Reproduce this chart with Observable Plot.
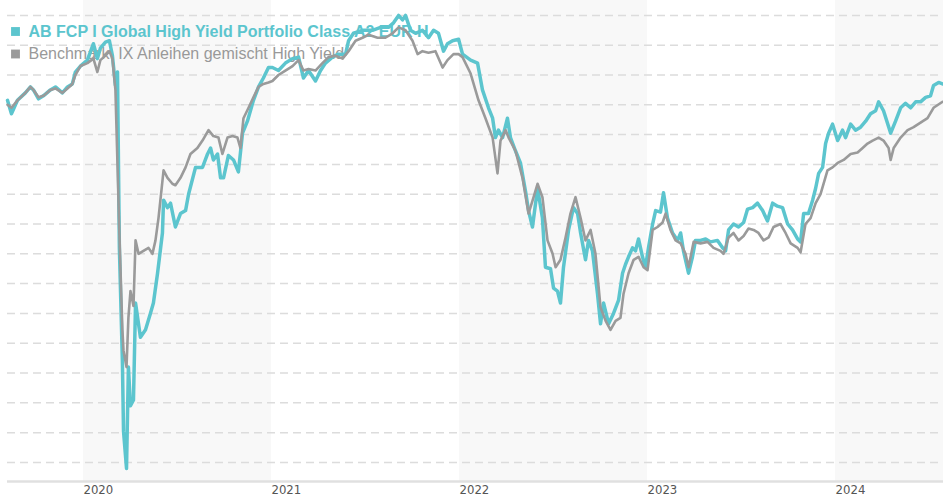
<!DOCTYPE html>
<html><head><meta charset="utf-8">
<script src="https://cdn.jsdelivr.net/npm/d3@7"></script>
<script src="https://cdn.jsdelivr.net/npm/@observablehq/plot@0.6"></script>
<style>html,body{margin:0;padding:0;background:#fff}#chart{width:943px;height:500px}</style>
</head><body><div id="chart"></div>
<script>
const seriesNames = ["AB FCP I Global High Yield Portfolio Class A2 EUR H", "Benchmark: IX Anleihen gemischt High Yield"];
const seriesColors = ["#5cc5ce", "#9a9a9a"];
const yearTicks = [2020, 2021, 2022, 2023, 2024];
const shadedYears = [2020, 2022, 2024];
const gridValues = [76, 78, 80, 82, 84, 86, 88, 90, 92, 94, 96, 98, 100, 102, 104, 106];
const xDomain = [2019.596, 2024.574];
const yDomain = [74.72, 107.0];

const fundYears = [2019.596,2019.617,2019.649,2019.691,2019.718,2019.734,2019.761,2019.787,2019.824,2019.851,2019.888,2019.915,2019.941,2019.957,2019.984,
2020.021,2020.053,2020.074,2020.090,2020.117,2020.138,2020.154,2020.170,2020.181,2020.191,2020.207,2020.213,2020.229,2020.239,2020.250,2020.266,2020.277,2020.303,2020.330,2020.356,2020.372,2020.394,2020.420,2020.426,2020.447,2020.463,2020.489,2020.516,2020.543,2020.559,2020.596,2020.633,2020.660,2020.676,2020.691,2020.713,2020.729,2020.745,2020.771,2020.798,2020.824,2020.846,2020.872,2020.904,2020.931,2020.957,2020.984,
2021.005,2021.037,2021.074,2021.112,2021.144,2021.170,2021.197,2021.234,2021.261,2021.287,2021.324,2021.356,2021.394,2021.410,2021.436,2021.484,2021.537,2021.580,2021.622,2021.649,2021.676,2021.697,2021.713,2021.739,2021.766,2021.803,2021.835,2021.862,2021.888,2021.915,2021.936,2021.963,2021.995,
2022.016,2022.059,2022.096,2022.122,2022.154,2022.176,2022.191,2022.207,2022.229,2022.255,2022.271,2022.298,2022.324,2022.351,2022.367,2022.388,2022.415,2022.441,2022.457,2022.484,2022.500,2022.521,2022.537,2022.553,2022.580,2022.606,2022.628,2022.644,2022.670,2022.686,2022.707,2022.734,2022.750,2022.766,2022.793,2022.819,2022.846,2022.867,2022.883,2022.899,2022.920,2022.936,2022.952,2022.973,2022.989,
2023.005,2023.027,2023.043,2023.069,2023.085,2023.106,2023.133,2023.160,2023.176,2023.191,2023.218,2023.239,2023.255,2023.282,2023.309,2023.335,2023.372,2023.399,2023.415,2023.431,2023.457,2023.484,2023.511,2023.532,2023.559,2023.585,2023.612,2023.638,2023.665,2023.691,2023.718,2023.745,2023.771,2023.798,2023.814,2023.830,2023.856,2023.878,2023.894,2023.910,2023.931,2023.947,2023.963,2023.984,
2024.011,2024.037,2024.053,2024.080,2024.106,2024.133,2024.160,2024.186,2024.213,2024.229,2024.255,2024.293,2024.319,2024.346,2024.372,2024.399,2024.426,2024.452,2024.479,2024.505,2024.521,2024.548,2024.569];
const fundValues = [100.3,99.4,100.3,100.8,101.2,101.0,100.4,100.6,101.0,101.2,100.8,101.2,101.4,102.2,102.6,
103.0,104.1,103.1,103.8,104.2,104.3,103.3,101.3,102.2,90.4,82.8,78.1,75.6,82.4,79.8,80.2,86.7,84.4,84.9,86.0,86.7,88.7,91.4,93.6,93.1,93.4,91.8,92.7,92.9,94.0,95.8,95.8,96.7,97.1,96.3,96.7,95.1,95.1,96.6,96.3,95.5,98.1,98.9,100.3,101.2,101.8,102.5,
102.5,102.3,102.8,103.1,103.2,101.8,102.3,101.6,102.3,102.8,103.2,103.4,103.4,104.3,104.8,105.0,105.0,105.2,105.2,105.5,106.0,105.7,106.0,105.0,104.8,105.0,104.5,105.0,104.8,103.6,104.1,104.3,104.4,
103.4,103.0,102.8,101.0,99.8,99.1,97.8,98.3,97.8,99.1,97.8,96.9,96.1,94.2,92.9,91.8,94.4,92.4,89.1,89.0,87.7,87.5,86.7,89.1,91.6,93.1,92.7,91.4,89.6,90.9,90.2,87.3,85.3,86.7,85.3,86.0,86.9,88.7,89.3,89.8,90.4,90.2,91.0,89.8,89.1,
90.4,92.0,92.9,92.8,94.1,92.4,91.4,90.9,91.4,90.2,88.7,89.8,90.9,90.9,91.0,90.8,90.9,90.4,90.2,91.6,92.0,91.8,92.1,93.0,93.1,93.4,92.9,92.2,93.4,93.2,93.1,92.0,91.6,91.0,90.8,92.7,92.7,93.6,94.4,95.4,95.8,97.4,98.1,98.7,
97.6,98.3,97.8,98.7,98.3,98.5,98.9,99.4,99.6,100.2,99.6,98.1,98.9,99.8,100.1,99.8,100.2,100.2,100.5,100.6,101.3,101.5,101.4];

const benchYears = [2019.596,2019.617,2019.649,2019.691,2019.718,2019.734,2019.761,2019.787,2019.824,2019.851,2019.888,2019.915,2019.941,2019.957,2019.984,
2020.021,2020.053,2020.074,2020.090,2020.117,2020.138,2020.154,2020.170,2020.191,2020.207,2020.213,2020.229,2020.239,2020.250,2020.266,2020.277,2020.293,2020.319,2020.346,2020.367,2020.383,2020.399,2020.426,2020.447,2020.473,2020.489,2020.516,2020.543,2020.569,2020.606,2020.633,2020.665,2020.691,2020.718,2020.739,2020.766,2020.793,2020.819,2020.835,2020.851,2020.878,2020.904,2020.931,2020.957,2020.984,
2021.005,2021.037,2021.074,2021.112,2021.144,2021.170,2021.197,2021.234,2021.271,2021.303,2021.340,2021.378,2021.410,2021.447,2021.484,2021.516,2021.564,2021.606,2021.644,2021.676,2021.713,2021.750,2021.777,2021.803,2021.835,2021.872,2021.910,2021.936,2021.968,2021.995,
2022.016,2022.059,2022.101,2022.138,2022.176,2022.202,2022.218,2022.245,2022.261,2022.298,2022.335,2022.367,2022.394,2022.415,2022.441,2022.468,2022.495,2022.511,2022.537,2022.564,2022.590,2022.617,2022.644,2022.670,2022.697,2022.723,2022.750,2022.777,2022.803,2022.830,2022.856,2022.872,2022.899,2022.926,2022.952,2022.979,
2023.000,2023.027,2023.053,2023.080,2023.096,2023.122,2023.149,2023.176,2023.202,2023.218,2023.245,2023.282,2023.319,2023.351,2023.388,2023.404,2023.431,2023.457,2023.484,2023.511,2023.537,2023.564,2023.590,2023.617,2023.644,2023.670,2023.707,2023.734,2023.761,2023.798,2023.814,2023.840,2023.867,2023.894,2023.920,2023.936,2023.957,2023.984,
2024.011,2024.043,2024.080,2024.117,2024.144,2024.170,2024.197,2024.229,2024.255,2024.282,2024.293,2024.309,2024.346,2024.383,2024.415,2024.452,2024.489,2024.521,2024.569];
const benchValues = [100.0,99.8,100.3,100.8,101.2,101.0,100.5,100.6,101.0,101.1,100.8,101.1,101.4,102.0,102.6,
102.8,103.1,102.2,103.0,103.3,103.6,103.1,101.0,91.4,84.9,83.5,82.4,85.7,87.5,86.5,90.9,90.0,90.2,90.4,90.0,90.9,92.4,95.6,95.1,94.7,94.6,95.1,95.8,96.7,97.1,97.6,98.3,97.9,97.8,96.7,97.8,97.9,97.8,97.1,99.1,99.8,100.5,101.2,101.4,101.5,
101.6,102.0,102.3,102.6,103.0,102.3,102.4,102.3,102.8,103.2,103.3,103.1,103.6,104.3,104.5,104.7,104.5,104.5,104.8,105.2,105.0,104.3,103.4,103.6,103.5,103.6,102.5,103.0,103.4,103.4,
103.2,102.1,100.3,99.1,97.8,95.4,97.6,98.3,97.8,96.9,95.1,92.7,93.8,94.7,93.8,90.9,90.0,89.1,89.6,91.1,92.7,93.8,92.4,90.9,91.6,90.0,86.4,85.5,84.9,85.5,85.7,87.3,88.7,89.6,89.8,89.1,
88.9,91.6,91.8,92.1,92.7,91.6,90.9,90.7,90.0,89.1,90.8,90.7,90.8,90.4,90.2,90.0,91.1,91.4,90.9,91.2,91.7,91.6,91.4,90.9,91.1,91.8,92.0,91.4,90.7,90.4,90.1,92.0,92.4,93.4,94.0,94.7,95.6,95.8,
96.1,96.3,96.7,96.8,97.1,97.4,97.6,97.8,97.6,97.1,96.3,97.1,97.8,98.3,98.5,98.8,99.1,99.8,100.2];

const fund = fundYears.map((x, i) => ({x, v: fundValues[i]}));
const bench = benchYears.map((x, i) => ({x, v: benchValues[i]}));

const legendRows = seriesNames.flatMap((name, i) => [
  Plot.dot([name], {frameAnchor: "top-left", dx: 8, dy: 31 + 22.5 * i, symbol: "square", r: 5, fill: seriesColors[i], stroke: null}),
  Plot.text([name], {frameAnchor: "top-left", dx: 21, dy: 36 + 22 * i, text: d => d, textAnchor: "start", lineAnchor: "bottom",
    fontSize: 16, fontWeight: i === 0 ? "bold" : "normal", fill: i === 0 ? seriesColors[0] : "#999"})
]);

const chart = Plot.plot({
  width: 943, height: 500,
  marginTop: 0, marginBottom: 19, marginLeft: 7, marginRight: 0,
  x: {domain: xDomain, axis: null},
  y: {domain: yDomain, axis: null},
  style: {background: "#fff", fontFamily: "'Liberation Sans', Arial, sans-serif"},
  marks: [
    Plot.rect(shadedYears, {x1: d => d, x2: d => Math.min(d + 1, xDomain[1]), y1: yDomain[0], y2: yDomain[1], fill: "#f8f8f8"}),
    Plot.ruleY(gridValues, {stroke: "#dcdcdc", strokeWidth: 1.5, strokeDasharray: "8,5"}),
    Plot.ruleY([yDomain[0]], {stroke: "#e0e0e0", strokeWidth: 2.5}),
    ...legendRows,
    Plot.line(fund, {x: "x", y: "v", stroke: seriesColors[0], strokeWidth: 3.5, strokeLinejoin: "round"}),
    Plot.line(bench, {x: "x", y: "v", stroke: seriesColors[1], strokeWidth: 2.6, strokeLinejoin: "round"}),
    Plot.axisX(yearTicks, {tickSize: 0, tickPadding: 3, textAnchor: "start", tickFormat: d => String(d), label: null,
      fontSize: 13, fill: "#555", fontFamily: "'DejaVu Sans Condensed', 'DejaVu Sans', sans-serif"})
  ]
});
document.getElementById("chart").append(chart);
</script>
</body></html>
